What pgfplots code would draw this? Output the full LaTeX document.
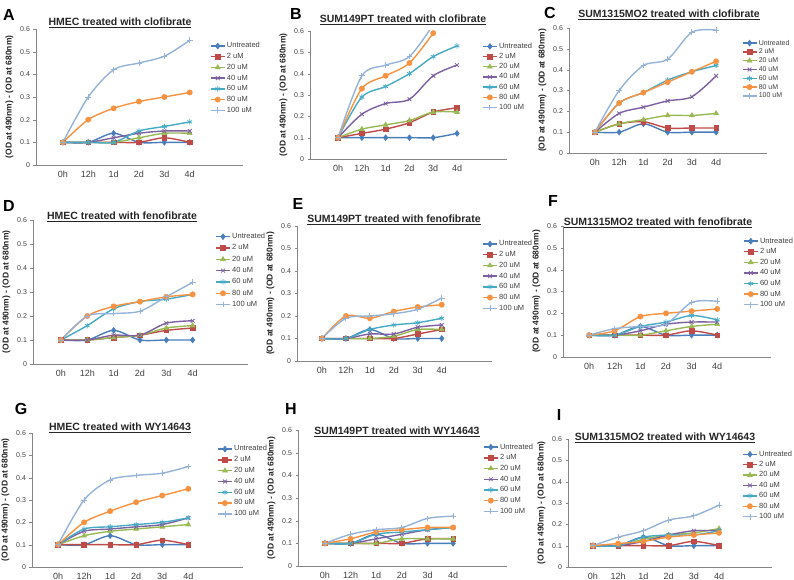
\documentclass[border=0pt]{standalone}
\usepackage{fontspec}
\setmainfont{Liberation Sans}
\usepackage{pgfplots}
\pgfplotsset{compat=1.18}
\usepackage{pgfplotstable}

\definecolor{cU}{HTML}{4A7EBB}
\definecolor{cB}{HTML}{BE4B48}
\definecolor{cC}{HTML}{98B954}
\definecolor{cD}{HTML}{7D60A0}
\definecolor{cE}{HTML}{46AAC5}
\definecolor{cF}{HTML}{F69240}
\definecolor{cG}{HTML}{95B3D7}
\definecolor{axgray}{HTML}{868686}
\definecolor{tickgray}{HTML}{404040}

\pgfplotstableread{
x u c2 c20 c40 c60 c80 c100
0 0.10 0.10 0.10 0.10 0.10 0.10 0.10
1 0.10 0.10 0.10 0.10 0.10 0.20 0.30
2 0.14 0.10 0.10 0.12 0.10 0.25 0.42
3 0.10 0.10 0.12 0.14 0.15 0.28 0.45
4 0.10 0.12 0.14 0.15 0.17 0.30 0.48
5 0.10 0.10 0.14 0.15 0.19 0.32 0.55
}\tabA
\pgfplotstableread{
x u c2 c20 c40 c60 c80 c100
0 0.10 0.10 0.10 0.10 0.10 0.10 0.10
1 0.10 0.12 0.14 0.21 0.29 0.33 0.39
2 0.10 0.14 0.16 0.26 0.34 0.39 0.44
3 0.10 0.17 0.18 0.28 0.40 0.45 0.48
4 0.10 0.22 0.22 0.39 0.48 0.59 0.63
5 0.12 0.24 0.22 0.44 0.53 nan nan
}\tabB
\pgfplotstableread{
x u c2 c20 c40 c60 c80 c100
0 0.10 0.10 0.10 0.10 0.10 0.10 0.10
1 0.10 0.14 0.14 0.19 0.24 0.24 0.30
2 0.14 0.15 0.16 0.22 0.29 0.29 0.42
3 0.10 0.12 0.18 0.25 0.35 0.34 0.45
4 0.10 0.12 0.18 0.27 0.39 0.39 0.58
5 0.10 0.12 0.19 0.37 0.42 0.44 0.59
}\tabC
\pgfplotstableread{
x u c2 c20 c40 c60 c80 c100
0 0.10 0.10 0.10 0.10 0.10 0.10 0.10
1 0.10 0.10 0.10 0.10 0.16 0.20 0.20
2 0.14 0.11 0.11 0.12 0.23 0.24 0.21
3 0.10 0.12 0.12 0.12 0.26 0.26 0.22
4 0.10 0.14 0.15 0.17 0.27 0.28 0.28
5 0.10 0.15 0.16 0.18 0.29 0.29 0.34
}\tabD
\pgfplotstableread{
x u c2 c20 c40 c60 c80 c100
0 0.10 0.10 0.10 0.10 0.10 0.10 0.10
1 0.10 0.10 0.10 0.10 0.10 0.20 0.19
2 0.14 0.10 0.10 0.12 0.14 0.19 0.20
3 0.10 0.10 0.11 0.12 0.16 0.22 0.21
4 0.10 0.12 0.14 0.15 0.17 0.24 0.23
5 0.10 0.14 0.14 0.16 0.19 0.25 0.28
}\tabE
\pgfplotstableread{
x u c2 c20 c40 c60 c80 c100
0 0.10 0.10 0.10 0.10 0.10 0.10 0.10
1 0.10 0.10 0.10 0.10 0.10 0.12 0.13
2 0.14 0.10 0.10 0.12 0.14 0.185 0.14
3 0.10 0.10 0.12 0.15 0.16 0.20 0.15
4 0.10 0.12 0.14 0.16 0.19 0.21 0.25
5 0.10 0.10 0.15 0.16 0.17 0.22 0.255
}\tabF
\pgfplotstableread{
x u c2 c20 c40 c60 c80 c100
0 0.10 0.10 0.10 0.10 0.10 0.10 0.10
1 0.10 0.10 0.14 0.16 0.17 0.20 0.30
2 0.14 0.10 0.16 0.17 0.18 0.25 0.39
3 0.10 0.10 0.17 0.18 0.19 0.29 0.41
4 0.10 0.12 0.18 0.19 0.20 0.32 0.42
5 0.10 0.10 0.19 0.22 0.22 0.35 0.45
}\tabG
\pgfplotstableread{
x u c2 c20 c40 c60 c80 c100
0 0.10 0.10 0.10 0.10 0.10 0.10 0.10
1 0.10 0.10 0.10 0.10 0.10 0.12 0.14
2 0.14 0.10 0.10 0.12 0.14 0.15 0.16
3 0.10 0.10 0.12 0.14 0.15 0.16 0.17
4 0.10 0.12 0.12 0.16 0.16 0.17 0.21
5 0.10 0.12 0.12 0.17 0.17 0.17 0.22
}\tabH
\pgfplotstableread{
x u c2 c20 c40 c60 c80 c100
0 0.10 0.10 0.10 0.10 0.10 0.10 0.10
1 0.10 0.10 0.10 0.10 0.10 0.11 0.14
2 0.14 0.10 0.13 0.12 0.14 0.12 0.17
3 0.10 0.10 0.15 0.15 0.15 0.14 0.22
4 0.10 0.12 0.16 0.17 0.15 0.15 0.24
5 0.10 0.10 0.18 0.17 0.17 0.16 0.29
}\tabI

\pgfplotsset{
  legend image code/.code={\draw[mark repeat=2,mark phase=2] plot coordinates {(0pt,0pt)(7pt,0pt)(14pt,0pt)};},
  sU/.style={color=cU, mark=diamond*, mark size=2.9pt, line width=1.4pt, smooth, mark options={solid, line width=0.6pt}},
  sB/.style={color=cB, mark=square*, mark size=2.3pt, line width=1.4pt, smooth, mark options={solid, line width=0.6pt}},
  sC/.style={color=cC, mark=triangle*, mark size=2.8pt, line width=1.4pt, smooth, mark options={solid, line width=0.6pt}},
  sD/.style={color=cD, mark=x, mark size=2.7pt, line width=1.4pt, smooth, mark options={solid, line width=0.8pt}},
  sE/.style={color=cE, mark=asterisk, mark size=2.7pt, line width=1.4pt, smooth, mark options={solid, line width=0.8pt}},
  sF/.style={color=cF, mark=*, mark size=2.6pt, line width=1.4pt, smooth, mark options={solid, line width=0.6pt}},
  sG/.style={color=cG, mark=+, mark size=2.9pt, line width=1.4pt, smooth, mark options={solid, line width=0.8pt}},
  panel/.style={
    scale only axis, anchor=south west,
    axis lines=left, axis line style={-, draw=axgray, line width=0.6pt},
    ymin=0, ymax=0.6,
    ytick={0,0.1,0.2,0.3,0.4,0.5,0.6},
    yticklabels={0,0.1,0.2,0.3,0.4,0.5,0.6},
    xtick={0,1,2,3,4,5}, xticklabels={0h,12h,1d,2d,3d,4d},
    tick align=outside, major tick length=2.5pt,
    x tick style={draw=none}, y tick style={draw=axgray},
    yticklabel style={font=\fontsize{7}{8}\selectfont, text=tickgray},
    xticklabel style={font=\fontsize{9}{10}\selectfont, text=tickgray},
    ylabel={(OD at 490nm) - (OD at 680nm)},
    ylabel style={font=\bfseries\fontsize{8.5}{9}\selectfont, text=black!85},
    legend cell align=left,
    legend style={draw=none, fill=none, anchor=north west,
      font=\fontsize{7.5}{8}\selectfont, text=tickgray, inner sep=0pt,
      nodes={inner xsep=1.5pt, inner ysep=0pt, text height=5.2pt, text depth=1.4pt}},
  }
}

\newcommand{\series}[1]{%
  \addplot[sU] table[x=x,y=u]{#1};
  \addplot[sB] table[x=x,y=c2]{#1};
  \addplot[sC] table[x=x,y=c20]{#1};
  \addplot[sD] table[x=x,y=c40]{#1};
  \addplot[sE] table[x=x,y=c60]{#1};
  \addplot[sF] table[x=x,y=c80]{#1};
  \addplot[sG] table[x=x,y=c100]{#1};
  \legend{Untreated,2 uM,20 uM,40 uM,60 uM,80 uM,100 uM}
}

\begin{document}
\begin{tikzpicture}
\useasboundingbox (0pt,0pt) rectangle (794pt,580pt);

% Row 1
\begin{axis}[panel, at={(36pt,415pt)}, width=207pt, height=136pt, xmin=-1.06, xmax=7.1,
  legend style={at={(0.84,0.90)}, row sep=4.1pt}]
\series{\tabA}
\end{axis}
\begin{axis}[panel, at={(310pt,421pt)}, width=197pt, height=128pt, xmin=-1.18, xmax=7.1,
  legend style={at={(0.873,0.907)}, row sep=3.6pt}]
\series{\tabB}
\end{axis}
\begin{axis}[panel, at={(569pt,427pt)}, width=198pt, height=125pt, xmin=-1.07, xmax=7.1,
  legend style={at={(0.872,0.907)}, row sep=2.2pt, font=\fontsize{7}{8}\selectfont}]
\series{\tabC}
\end{axis}

% Row 2
\begin{axis}[panel, at={(33pt,216pt)}, width=215pt, height=144pt, xmin=-1.06, xmax=7.1,
  legend style={at={(0.847,0.908)}, row sep=4.7pt}]
\series{\tabD}
\end{axis}
\begin{axis}[panel, at={(297pt,219pt)}, width=195pt, height=135pt, xmin=-1.04, xmax=7.1,
  legend style={at={(0.949,0.892)}, row sep=4.1pt}]
\series{\tabE}
\end{axis}
\begin{axis}[panel, at={(563pt,223pt)}, width=208pt, height=131pt, xmin=-1.02, xmax=7.1,
  legend style={at={(0.865,0.911)}, row sep=4.0pt}]
\series{\tabF}
\end{axis}

% Row 3
\begin{axis}[panel, at={(32pt,13pt)}, width=211pt, height=134pt, xmin=-1.0, xmax=7.1,
  legend style={at={(0.877,0.906)}, row sep=4.2pt}]
\series{\tabG}
\end{axis}
\begin{axis}[panel, at={(298pt,14pt)}, width=209pt, height=136pt, xmin=-1.05, xmax=7.1,
  legend style={at={(0.885,0.90)}, row sep=4.1pt}]
\series{\tabH}
\end{axis}
\begin{axis}[panel, at={(568pt,13pt)}, width=204pt, height=128pt, xmin=-0.99, xmax=7.1,
  legend style={at={(0.853,0.908)}, row sep=3.8pt}]
\series{\tabI}
\end{axis}

% Titles
\begin{scope}[every node/.style={font=\bfseries\fontsize{10.5}{12}\selectfont, text=black!85}]
\node at (120pt,557pt) {\underline{HMEC treated with clofibrate}};
\node at (403pt,560pt) {\underline{SUM149PT treated with clofibrate}};
\node at (669pt,565pt) {\underline{SUM1315MO2 treated with clofibrate}};
\node at (122pt,363pt) {\underline{HMEC treated with fenofibrate}};
\node at (394pt,360pt) {\underline{SUM149PT treated with fenofibrate}};
\node at (658pt,357pt) {\underline{SUM1315MO2 treated with fenofibrate}};
\node at (120pt,152pt) {\underline{HMEC treated with WY14643}};
\node at (397pt,148pt) {\underline{SUM149PT treated with WY14643}};
\node at (665pt,142pt) {\underline{SUM1315MO2 treated with WY14643}};
\end{scope}

% Panel letters
\begin{scope}[every node/.style={font=\bfseries\fontsize{16}{18}\selectfont}]
\node at (9pt,565pt) {A};
\node at (296pt,566pt) {B};
\node at (550pt,567pt) {C};
\node at (9pt,374pt) {D};
\node at (298pt,376pt) {E};
\node at (553pt,379pt) {F};
\node at (21pt,171pt) {G};
\node at (291pt,171pt) {H};
\node at (559pt,165pt) {I};
\end{scope}
\end{tikzpicture}
\end{document}
